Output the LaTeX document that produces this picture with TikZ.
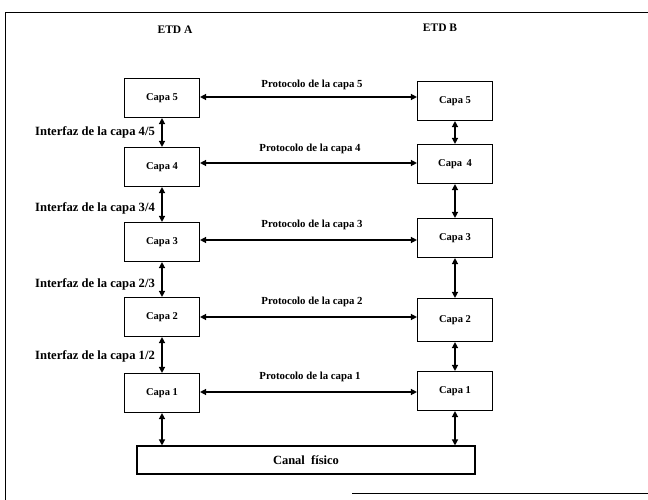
\documentclass[tikz,border=0pt]{standalone}
\usepackage{fontspec}
\setmainfont{Liberation Serif}
\usetikzlibrary{arrows.meta}
\begin{document}
\begin{tikzpicture}[x=1pt,y=-1pt,
  capa/.style={draw,line width=1.1pt,minimum width=75pt,minimum height=39pt,inner sep=0pt,font=\fontsize{10.5}{12}\selectfont\bfseries},
  lbl/.style={inner sep=0pt,font=\fontsize{10.8}{12}\selectfont\bfseries},
  ilbl/.style={inner sep=0pt,anchor=east,font=\fontsize{12.6}{14}\selectfont\bfseries},
  dbl/.style={line width=1.3pt,{Triangle[length=6pt,width=6pt]}-{Triangle[length=6pt,width=6pt]}}]
\useasboundingbox (0,0) rectangle (648,500);
% frame
\draw[line width=1pt] (5,500) -- (5,13) -- (648,13);
\draw[line width=1pt] (352,493) -- (648,493);
% titles
\node[lbl,font=\fontsize{11.5}{13}\selectfont\bfseries] (ea) at (175,30) {ETD A};
\node[lbl,font=\fontsize{11.5}{13}\selectfont\bfseries] (eb) at (440,28) {ETD B};
% left column
\node[capa] (L5) at (162,98) {Capa 5};
\node[capa] (L4) at (162,167) {Capa 4};
\node[capa] (L3) at (162,242) {Capa 3};
\node[capa] (L2) at (162,317) {Capa 2};
\node[capa] (L1) at (162,393) {Capa 1};
% right column
\node[capa] (R5) at (455,101) {Capa 5};
\node[capa] (R4) at (455,164) {Capa \,4};
\node[capa] (R3) at (455,238) {Capa 3};
\node[capa,minimum height=43pt] (R2) at (455,320) {Capa 2};
\node[capa] (R1) at (455,391) {Capa 1};
% physical channel
\node[draw,line width=1.1pt,minimum width=338pt,minimum height=28pt,inner sep=0pt,font=\fontsize{12.5}{14}\selectfont\bfseries] (cf) at (306,460) {Canal\ \ físico};
% vertical arrows
\draw[dbl] (L5.south) -- (L4.north);
\draw[dbl] (L4.south) -- (L3.north);
\draw[dbl] (L3.south) -- (L2.north);
\draw[dbl] (L2.south) -- (L1.north);
\draw[dbl] (L1.south) -- (L1.south |- cf.north);
\draw[dbl] (R5.south) -- (R4.north);
\draw[dbl] (R4.south) -- (R3.north);
\draw[dbl] (R3.south) -- (R2.north);
\draw[dbl] (R2.south) -- (R1.north);
\draw[dbl] (R1.south) -- (R1.south |- cf.north);
% horizontal arrows
\draw[dbl] ([yshift=1pt]L5.east) -- ([yshift=1pt]L5.east -| R5.west);
\draw[dbl] ([yshift=4pt]L4.east) -- ([yshift=4pt]L4.east -| R4.west);
\draw[dbl] ([yshift=2pt]L3.east) -- ([yshift=2pt]L3.east -| R3.west);
\draw[dbl] (L2.east) -- (L2.east -| R2.west);
\draw[dbl] ([yshift=1pt]L1.east) -- ([yshift=1pt]L1.east -| R1.west);
% protocol labels
\node[lbl] (p5) at (312,85) {Protocolo de la capa 5};
\node[lbl] (p4) at (310,149) {Protocolo de la capa 4};
\node[lbl] (p3) at (312,225) {Protocolo de la capa 3};
\node[lbl] (p2) at (312,302) {Protocolo de la capa 2};
\node[lbl] (p1) at (310,377) {Protocolo de la capa 1};
% interface labels
\node[ilbl] (i45) at (155,132) {Interfaz de la capa 4/5};
\node[ilbl] (i34) at (155,208) {Interfaz de la capa 3/4};
\node[ilbl] (i23) at (155,284) {Interfaz de la capa 2/3};
\node[ilbl] (i12) at (155,356) {Interfaz de la capa 1/2};
\end{tikzpicture}
\end{document}
